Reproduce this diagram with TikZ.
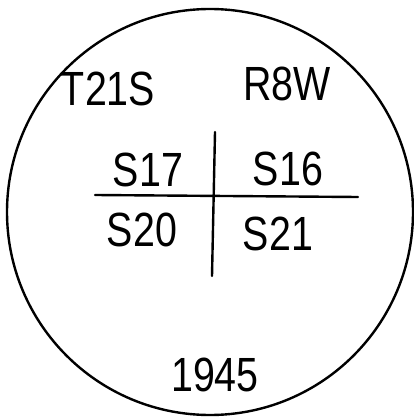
\documentclass[tikz,border=0pt]{standalone}
\usepackage{fontspec}
\setmainfont{Liberation Sans}
\newfontfamily\handfont[FakeStretch=0.82]{Liberation Sans}
\begin{document}
\begin{tikzpicture}[x=1pt, y=-1pt, line width=2.4pt, line cap=round,
    lbl/.style={font=\handfont\fontsize{48}{48}\selectfont, inner sep=0pt}]
        \useasboundingbox (0,0) rectangle (413,419);

        % --- Cercle ---
        \coordinate (C) at (210, 212);
        \draw (C) circle (203);

        % --- Township et range ---
        \node[lbl] (twp) at (108, 89) {T21S};
        \node[lbl] (rng) at (287, 84) {R8W};

        % --- Croix des sections ---
        \coordinate (hW) at (95, 195);
        \coordinate (hE) at (358, 197);
        \coordinate (vN) at (215, 132);
        \coordinate (vS) at (212, 276);
        \draw (hW) -- (hE);
        \draw (vN) -- (vS);

        % --- Sections ---
        \node[lbl] (s17) at (148, 170) {S17};
        \node[lbl] (s16) at (288, 169) {S16};
        \node[lbl] (s20) at (142, 230) {S20};
        \node[lbl] (s21) at (278, 234) {S21};

        % --- Annee ---
        \node[lbl] (yr) at (215, 375) {1945};
\end{tikzpicture}
\end{document}
